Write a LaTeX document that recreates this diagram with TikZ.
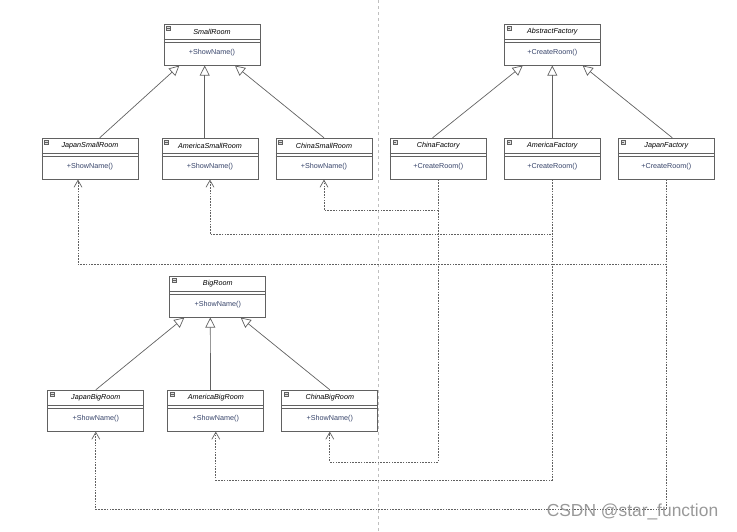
\documentclass[tikz,border=0pt]{standalone}
\usepackage{tikz}
\usepackage{fontspec}
\setmainfont{Liberation Sans}
\definecolor{linecolor}{rgb}{0.38,0.38,0.38}
\definecolor{opcolor}{rgb}{0.22,0.27,0.42}
\usetikzlibrary{arrows.meta,positioning}
\tikzset{
	classbox/.style={
		rectangle,
		draw=linecolor,
		line width=0.8pt,
		fill=white,
		minimum width=96pt,
		minimum height=41pt,
		inner sep=0pt
	},
	classtitle/.style={
		font=\fontsize{7.2}{8}\selectfont\itshape,
		inner sep=0pt
	},
	classop/.style={
		font=\fontsize{7.2}{8}\selectfont,
		text=opcolor,
		inner sep=0pt
	},
	classline/.style={
		draw=linecolor,
		line width=0.6pt
	},
	classicon/.style={
		draw=linecolor,
		fill=gray!25,
		line width=0.4pt
	},
	inherit/.style={
		draw=linecolor,
		line width=0.7pt,
		-{Triangle[open,length=10pt,width=10pt]}
	},
	depend/.style={
		draw=linecolor,
		line width=0.7pt,
		dash pattern=on 1.6pt off 1.2pt,
		-{Straight Barb[length=7pt,width=8pt]}
	},
	divider/.style={
		draw=gray!50,
		line width=0.6pt,
		dash pattern=on 3pt off 3pt
	},
}
% name, placement, title, operation
\newcommand{\umlclass}[4]{
	\node[classbox] (#1) #2 {};
	\node[classtitle] (#1-title) at ([yshift=-8pt]#1.north) {#3};
	\node[classop] (#1-op) at ([yshift=-28.5pt]#1.north) {#4};
	\draw[classline] ([yshift=-15.2pt]#1.north west) -- ([yshift=-15.2pt]#1.north east);
	\draw[classline] ([yshift=-18.4pt]#1.north west) -- ([yshift=-18.4pt]#1.north east);
	\draw[classicon] ([xshift=3pt,yshift=-2pt]#1.north west) rectangle ++(4pt,-4pt);
	\draw[linecolor,line width=0.4pt] ([xshift=3.8pt,yshift=-4pt]#1.north west) -- ++(2.4pt,0);
}

\begin{document}
\begin{tikzpicture}[x=1pt,y=1pt,node distance=114pt,on grid]
\useasboundingbox (0,0) rectangle (737,531);
\draw[divider] (378,0) -- (378,531);

% rooms
\umlclass{SmallRoom}{at (212,486.3)}{SmallRoom}{+ShowName()}
\umlclass{AmericaSmallRoom}{[below=of SmallRoom,xshift=-2pt]}{AmericaSmallRoom}{+ShowName()}
\umlclass{JapanSmallRoom}{[left=120pt of AmericaSmallRoom]}{JapanSmallRoom}{+ShowName()}
\umlclass{ChinaSmallRoom}{[right=of AmericaSmallRoom]}{ChinaSmallRoom}{+ShowName()}

\umlclass{BigRoom}{at (217.8,234.3)}{BigRoom}{+ShowName()}
\umlclass{AmericaBigRoom}{[below=of BigRoom,xshift=-2pt]}{AmericaBigRoom}{+ShowName()}
\umlclass{JapanBigRoom}{[left=120pt of AmericaBigRoom]}{JapanBigRoom}{+ShowName()}
\umlclass{ChinaBigRoom}{[right=of AmericaBigRoom]}{ChinaBigRoom}{+ShowName()}

% factories
\umlclass{AbstractFactory}{at (552.3,486.3)}{AbstractFactory}{+CreateRoom()}
\umlclass{AmericaFactory}{[below=of AbstractFactory]}{AmericaFactory}{+CreateRoom()}
\umlclass{ChinaFactory}{[left=of AmericaFactory]}{ChinaFactory}{+CreateRoom()}
\umlclass{JapanFactory}{[right=of AmericaFactory]}{JapanFactory}{+CreateRoom()}

\draw[inherit] ([xshift=9.7pt]JapanSmallRoom.north) -- ([xshift=-32.7pt]SmallRoom.south);
\draw[inherit] ([xshift=-5.3pt]AmericaSmallRoom.north) -- ([xshift=-7.3pt]SmallRoom.south);
\draw[inherit] (ChinaSmallRoom.north) -- ([xshift=23pt]SmallRoom.south);

\draw[inherit] (JapanBigRoom.north) -- ([xshift=-33.5pt]BigRoom.south);
\draw[inherit] ([xshift=-5.3pt]AmericaBigRoom.north) -- ([xshift=-7.5pt]BigRoom.south);
\draw[inherit] (ChinaBigRoom.north) -- ([xshift=22.9pt]BigRoom.south);

\draw[inherit] ([xshift=-5.7pt]ChinaFactory.north) -- ([xshift=-29.6pt]AbstractFactory.south);
\draw[inherit] (AmericaFactory.north) -- (AbstractFactory.south);
\draw[inherit] ([xshift=6pt]JapanFactory.north) -- ([xshift=30.4pt]AbstractFactory.south);

\draw[depend] (ChinaFactory.south) -- ++(0,-30.7) -| (ChinaSmallRoom.south);
\draw[depend] (AmericaFactory.south) -- ++(0,-54.7) -| (AmericaSmallRoom.south);
\draw[depend] (JapanFactory.south) -- ++(0,-84.7) -| ([xshift=-12pt]JapanSmallRoom.south);
\draw[depend] (ChinaFactory.south) -- ++(0,-282.4) -| (ChinaBigRoom.south);
\draw[depend] (AmericaFactory.south) -- ++(0,-300.3) -| (AmericaBigRoom.south);
\draw[depend] (JapanFactory.south) -- ++(0,-329.7) -| (JapanBigRoom.south);

\node[text=gray!80,font=\fontsize{17.4}{19}\selectfont,inner sep=0pt] (watermark) at (632.5,19.5) {CSDN @star\_function};
\end{tikzpicture}
\end{document}
